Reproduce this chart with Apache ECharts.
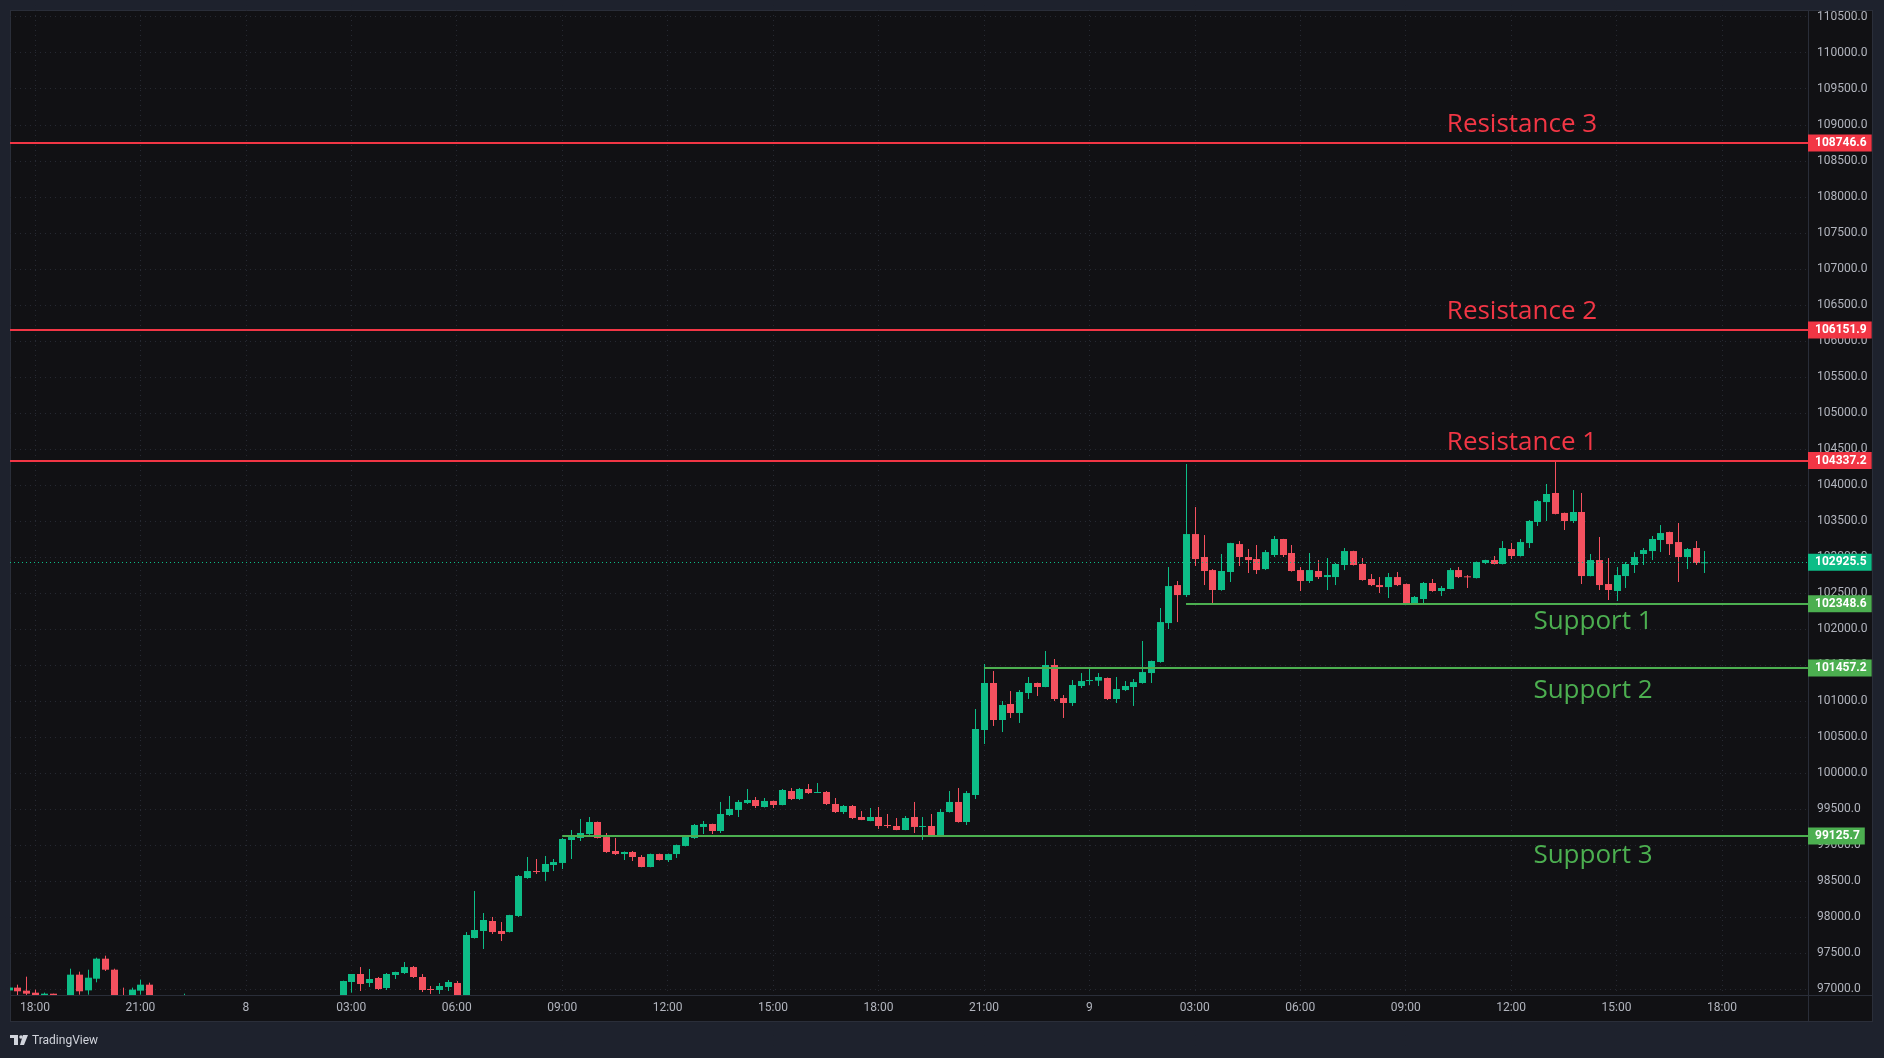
<!DOCTYPE html>
<html>
<head>
<meta charset="utf-8">
<script src="https://cdn.jsdelivr.net/npm/echarts@6/dist/echarts.min.js"></script>
<style>
html,body{margin:0;padding:0;background:#1e222d;width:1884px;height:1058px;overflow:hidden}
#frame{position:absolute;left:10px;top:10px;width:1863px;height:1012px;background:#111114;border:1px solid #2a2e39;box-sizing:border-box}
#vsep{position:absolute;left:1808px;top:10px;width:1px;height:1012px;background:#2a2e39}
#hsep{position:absolute;left:10px;top:995px;width:1863px;height:1px;background:#2a2e39}
#chart{position:absolute;left:0;top:0;width:1884px;height:1058px}
</style>
</head>
<body>
<div id="frame"></div><div id="vsep"></div><div id="hsep"></div>
<div id="chart"></div>
<script>
// ---- time axis (hours counted from day 7, 00:00), 15-minute candles ----
const FIRST_CANDLE_HOUR = 17.25;
const CANDLE_STEP_HOUR = 0.25;
const TIME_TICKS = [18,21,24,27,30,33,36,39,42,45,48,51,54,57,60,63,66];
const TIME_LABELS = ['18:00','21:00','8','03:00','06:00','09:00','12:00','15:00','18:00','21:00','9','03:00','06:00','09:00','12:00','15:00','18:00'];
const PRICE_TICKS = [97000,97500,98000,98500,99000,99500,100000,100500,101000,101500,102000,102500,103000,103500,104000,104500,105000,105500,106000,106500,107000,107500,108000,108500,109000,109500,110000,110500];

// ---- OHLC values ----
const open = [96980,97019,96977,96949,96905,96935,96890,96880,97199,96981,97143,97421,97268,96890,96890,96977,97060,
96890,96820,96760,96800,96860,96780,96700,96640,96680,96600,96550,96620,96580,96650,96700,96660,96720,96780,96740,96800,96760,
96830,97097,97208,97083,97153,97014,97194,97222,97305,97167,97000,96986,97028,97083,96880,97708,97805,97944,97805,97791,98014,
98541,98638,98625,98722,98750,99069,99097,99152,99319,99110,98916,98874,98902,98833,98694,98874,98791,98874,98986,99097,99250,
99291,99194,99416,99486,99583,99624,99527,99611,99555,99749,99638,99777,99731,99735,99569,99458,99541,99388,99333,99388,99277,
99263,99208,99388,99255,99263,99124,99458,99597,99319,99694,100596,101249,100735,100957,100832,101110,101249,101193,101499,
101040,100971,101207,101285,101281,101318,101027,101151,101193,101249,101387,101540,102081,102609,102470,103317,102998,102817,
102540,102790,103178,102998,102970,102831,103026,103248,103054,102817,102665,102804,102720,102720,102887,103081,102901,102693,
102609,102581,102720,102623,102346,102415,102637,102526,102554,102817,102730,102706,102915,102956,102901,103109,103012,103192,
103484,103761,103887,103610,103498,103623,102734,102956,102623,102526,102734,102887,103040,103081,103234,103345,103206,102998,
103123,102920];
const close = [97020,96968,96935,96915,96935,96905,96850,97199,96968,97157,97421,97268,96880,96860,96991,97060,96890,
96820,96760,96800,96860,96780,96700,96640,96680,96600,96550,96620,96580,96650,96700,96660,96720,96780,96740,96800,96760,96830,
97111,97208,97069,97139,97000,97208,97236,97305,97167,96986,96995,97042,97097,96890,97750,97819,97958,97791,97764,98027,98569,
98638,98625,98736,98763,99083,99110,99166,99319,99097,98902,98874,98902,98833,98694,98874,98791,98874,98999,99110,99277,99291,
99194,99430,99500,99597,99624,99541,99611,99555,99763,99638,99777,99721,99735,99569,99458,99541,99374,99347,99388,99263,99263,
99208,99374,99250,99263,99124,99458,99597,99319,99721,100610,101249,100735,100943,100832,101124,101249,101193,101499,101027,
100971,101221,101276,101290,101332,101027,101165,101207,101262,101401,101554,102095,102595,102470,103317,102970,102804,102540,
102804,103192,102998,102956,102817,103067,103248,103026,102804,102665,102817,102720,102748,102901,103081,102887,102679,102609,
102581,102720,102609,102346,102443,102637,102526,102568,102817,102720,102720,102929,102956,102901,103123,103012,103206,103498,
103775,103873,103596,103498,103623,102734,102956,102609,102540,102748,102901,102998,103095,103248,103331,103178,102998,103109,
102915,102925.5];
const low = [96975,96900,96890,96880,96880,96870,96820,96860,96921,96921,97093,97250,96850,96820,96870,96921,96870,
96780,96700,96720,96780,96740,96650,96600,96590,96560,96500,96520,96540,96560,96620,96630,96640,96700,96700,96720,96730,96740,
96810,96949,96972,97028,96986,96986,97139,97208,97153,96958,96931,96931,96972,96870,96860,97700,97555,97764,97666,97785,98000,
98530,98597,98500,98638,98666,98805,99055,99140,99090,98890,98860,98791,98777,98690,98690,98785,98763,98819,98980,99083,99152,
99152,99166,99402,99388,99569,99513,99520,99513,99550,99624,99624,99708,99721,99555,99444,99430,99360,99345,99330,99222,99235,
99205,99205,99166,99069,99110,99110,99450,99310,99277,99638,100402,100652,100568,100763,100694,101027,101068,101190,100999,
100763,100930,101179,101221,101207,101013,100971,101137,100930,101240,101249,101530,101998,102095,102443,102873,102609,102359,
102530,102651,102873,102776,102762,102817,102998,102998,102795,102526,102637,102693,102540,102609,102817,102880,102670,102595,
102498,102429,102595,102335,102340,102359,102515,102457,102550,102706,102568,102700,102900,102895,102895,102970,103005,103123,
103429,103498,103590,103373,103470,102623,102730,102540,102401,102387,102568,102776,102887,102956,103067,103026,102651,102831,
102887,102776];
const high = [97022,97060,97171,96991,96950,96935,96900,97282,97241,97268,97435,97463,97282,97019,97019,97130,97088,
96900,96850,96840,96935,96880,96800,96730,96720,96700,96640,96660,96650,96690,96740,96730,96760,96810,96820,96840,96830,96870,
97116,97208,97305,97278,97167,97222,97240,97375,97319,97208,97042,97083,97125,97111,97791,98361,98055,98000,97930,98030,98583,
98833,98805,98847,98805,99097,99208,99361,99388,99325,99166,99097,98910,98916,98860,98880,98880,98880,99005,99115,99291,99333,
99295,99597,99680,99624,99777,99666,99652,99615,99777,99791,99791,99846,99860,99749,99652,99555,99555,99471,99513,99527,99430,
99374,99402,99597,99388,99430,99500,99749,99791,99749,100888,101512,101415,100999,101137,101151,101332,101255,101693,101582,
101082,101290,101387,101443,101387,101325,101332,101276,101304,101832,101560,102290,102859,102665,104289,103692,103303,102830,
103040,103195,103220,103109,103165,103095,103290,103250,103165,102859,103054,102956,102984,102915,103123,103085,102984,102762,
102720,102776,102790,102630,102457,102651,102693,102595,102845,102859,102748,102935,102960,103012,103220,103193,103248,103512,
103790,104012,104345,103615,103928,103887,103040,103276,102984,102859,102929,103067,103123,103290,103442,103350,103470,103123,
103220,103081];

// ---- horizontal levels ----
const RES_NAMES = ['Resistance 3','Resistance 2','Resistance 1'];
const RES_VALUES = [108746.6,106151.9,104337.2];
const SUP_NAMES = ['Support 1','Support 2','Support 3'];
const SUP_VALUES = [102348.6,101457.2,99125.7];
const SUP_START_HOUR = [50.75,45,33];
const LAST_PRICE = 102925.5;

// ---- styling ----
const UP = '#0dbd87', DOWN = '#f5515f', RES_COLOR = '#f23645', SUP_COLOR = '#4caf50';
const X_MIN = 17.289, X_MAX = 68.447, Y_MIN = 96916.7, Y_MAX = 110593.4;
const GRID_LINE = {show:true, lineStyle:{color:'#262932', type:[1,4], width:1}};
const RES_TEXT_DY = [-18,-18,-18];
const SUP_TEXT_DY = [18,23,20];

const rows = open.map((o,i)=>[FIRST_CANDLE_HOUR + i*CANDLE_STEP_HOUR, o, close[i], low[i], high[i]]);

const markData = [];
RES_VALUES.forEach(v=>markData.push({yAxis:v, lineStyle:{color:RES_COLOR,width:2,type:'solid'}}));
SUP_VALUES.forEach((v,i)=>markData.push([{coord:[SUP_START_HOUR[i], v], lineStyle:{color:SUP_COLOR,width:2,type:'solid'}},{coord:[X_MAX, v]}]));
markData.push({yAxis:LAST_PRICE, lineStyle:{color:UP,width:1,type:[1,3]}});

function renderCandle(params, api){
  const x = api.value(0), o = api.value(1), c = api.value(2), l = api.value(3), h = api.value(4);
  const pO = api.coord([x,o]), pC = api.coord([x,c]), pL = api.coord([x,l]), pH = api.coord([x,h]);
  const cx = Math.round(pO[0]);
  const color = c >= o ? UP : DOWN;
  const top = Math.min(pO[1], pC[1]), bot = Math.max(pO[1], pC[1]);
  return {type:'group', children:[
    {type:'line', shape:{x1:cx+0.5, y1:pH[1], x2:cx+0.5, y2:pL[1]}, style:{stroke:color, lineWidth:1}},
    {type:'rect', shape:{x:cx-3, y:top, width:7, height:Math.max(bot-top,1)}, style:{fill:color}}
  ]};
}

const chart = echarts.init(document.getElementById('chart'), null, {renderer:'canvas'});
chart.setOption({
  backgroundColor:'transparent',
  animation:false,
  grid:{left:10, right:76, top:10, bottom:63, outerBoundsMode:'none'},
  xAxis:{
    type:'value', min:X_MIN, max:X_MAX,
    axisLine:{show:false},
    axisTick:{show:false, customValues:TIME_TICKS},
    axisLabel:{customValues:TIME_TICKS, color:'#b2b5be', fontSize:12, fontFamily:'Roboto', margin:7,
      formatter:v=>{const k=TIME_TICKS.indexOf(Math.round(v)); return k>=0?TIME_LABELS[k]:'';}},
    splitLine:GRID_LINE
  },
  yAxis:{
    type:'value', position:'right', min:Y_MIN, max:Y_MAX,
    axisLine:{show:false},
    axisTick:{show:false, customValues:PRICE_TICKS},
    axisLabel:{customValues:PRICE_TICKS, color:'#b2b5be', fontSize:12, fontFamily:'Roboto', margin:9, align:'left',
      formatter:v=>Number(v).toFixed(1)},
    splitLine:GRID_LINE
  },
  series:[{
    type:'custom',
    data:rows,
    encode:{x:0, y:[1,2,3,4]},
    dimensions:['time','open','close','low','high'],
    clip:true,
    renderItem:renderCandle,
    markLine:{silent:true, symbol:['none','none'], label:{show:false}, animation:false, data:markData}
  }]
});

function py(v){ return chart.convertToPixel({yAxisIndex:0}, v); }
const g = [];
function tag(v, color){
  g.push({type:'text', z:100, style:{text:v.toFixed(1), x:1808, y:py(v), fill:'#ffffff',
    font:'bold 12px Roboto', verticalAlign:'middle', align:'left',
    backgroundColor:color, padding:[3,5,2,7], lineHeight:12}});
}
tag(LAST_PRICE, UP);
RES_VALUES.forEach(v=>tag(v, RES_COLOR));
SUP_VALUES.forEach(v=>tag(v, SUP_COLOR));
RES_NAMES.forEach((n,i)=>g.push({type:'text', z:90, style:{text:n, x:1522, y:py(RES_VALUES[i])+RES_TEXT_DY[i],
  fill:RES_COLOR, font:'26px "Open Sans"', align:'center', verticalAlign:'middle'}}));
SUP_NAMES.forEach((n,i)=>g.push({type:'text', z:90, style:{text:n, x:1593, y:py(SUP_VALUES[i])+SUP_TEXT_DY[i],
  fill:SUP_COLOR, font:'26px "Open Sans"', align:'center', verticalAlign:'middle'}}));
// TradingView mark
g.push({type:'rect', shape:{x:10,y:1035,width:8,height:3}, style:{fill:'#d1d4dc'}});
g.push({type:'rect', shape:{x:14,y:1035,width:4,height:10}, style:{fill:'#d1d4dc'}});
g.push({type:'circle', shape:{cx:21,cy:1037,r:1.8}, style:{fill:'#d1d4dc'}});
g.push({type:'polygon', shape:{points:[[23,1035],[28,1035],[24,1045],[20,1045]]}, style:{fill:'#d1d4dc'}});
g.push({type:'text', style:{text:'TradingView', x:32, y:1041, fill:'#d1d4dc', font:'12px Roboto', verticalAlign:'middle'}});
chart.setOption({graphic:g});
</script>
</body>
</html>
